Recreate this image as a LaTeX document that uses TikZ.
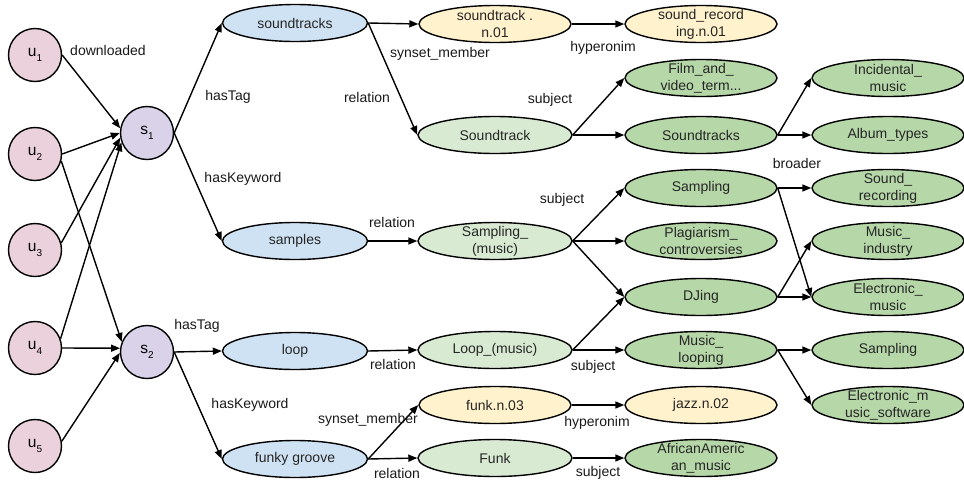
\documentclass[tikz,border=0pt]{standalone}
\usepackage{fontspec}
\setmainfont{Liberation Sans}
\usetikzlibrary{shapes.geometric,arrows.meta}
\definecolor{userpink}{HTML}{EAD1DC}
\definecolor{songlilac}{HTML}{D9D2E9}
\definecolor{tagblue}{HTML}{CFE2F3}
\definecolor{synyellow}{HTML}{FFF2CC}
\definecolor{reslight}{HTML}{D9EAD3}
\definecolor{catgreen}{HTML}{B6D7A8}
\newcommand{\idx}[2]{#1\raisebox{-0.55ex}{\fontsize{10}{10}\selectfont #2}}
\tikzset{
  user/.style={circle, draw, fill=userpink, minimum size=53pt, inner sep=0pt, font=\fontsize{15.5}{17}\selectfont},
  song/.style={user, fill=songlilac},
  concept/.style={ellipse, draw, minimum width=152pt, minimum height=37pt, inner xsep=0pt, inner ysep=-8pt, align=center, text=black!85},
  tag/.style={concept, fill=tagblue, minimum width=145pt},
  syn/.style={concept, fill=synyellow},
  res/.style={concept, fill=reslight, minimum width=154pt},
  cat/.style={concept, fill=catgreen},
  lbl/.style={inner sep=1pt, text=black!90}
}
\begin{document}
\begin{tikzpicture}[x=1pt, y=-1pt, >={Triangle[length=9pt,width=7pt]}, font=\fontsize{14}{17}\selectfont, line width=1.4pt]
\useasboundingbox (0,0) rectangle (964,480);
\foreach \n/\y in {1/55, 2/154, 3/250, 4/348, 5/446}
  \node[user] (u\n) at (35,\y) {\idx{u}{\n}};
\node[song] (s1) at (147,133) {\idx{s}{1}};
\node[song] (s2) at (147,352) {\idx{s}{2}};
\foreach \n/\x/\y/\s/\t in {st/295/23/tag/soundtracks, samples/295/241/tag/samples, loop/295/351/tag/loop, funky/295/459/tag/funky groove,
    stn/495/24/syn/{soundtrack .\\n.01}, std/495/135/res/Soundtrack, sampm/495/241/res/{Sampling\_\\(music)}, loopm/495/350/res/{Loop\_(music)},
    funkn/495/405/syn/funk.n.03, funk/495/458/res/Funk,
    srn/701/24/syn/{sound\_record\\ing.n.01}, film/701/78/cat/{Film\_and\_\\video\_term...}, stds/701/135/cat/Soundtracks,
    smpl/701/188/cat/Sampling, plag/701/241/cat/{Plagiarism\_\\controversies}, dj/701/297/cat/DJing,
    mloop/701/350/cat/{Music\_\\looping}, jazz/701/405/syn/jazz.n.02, afro/701/458/cat/{AfricanAmeric\\an\_music},
    incid/888/78/cat/{Incidental\_\\music}, album/888/135/cat/Album\_types, sndrec/888/188/cat/{Sound\_\\recording},
    musind/888/241/cat/{Music\_\\industry}, elec/888/297/cat/{Electronic\_\\music}, smpl2/888/350/cat/Sampling,
    elsoft/888/405/cat/{Electronic\_m\\usic\_software}}
  \node[\s] (\n) at (\x,\y) {\t};
\foreach \a/\b in {u1.east/s1.170, u2.east/s1.180, u2.-15/s2.158, u3.15/s1.190, u4.20/s1.200, u4.east/s2.172, u5.10/s2.182}
  \draw[->] (\a) -- (\b);
\foreach \a/\b in {s1/st, s1/samples, s2/loop, s2/funky, st/stn, st/std, stn/srn, std/film, std/stds, stds/incid, stds/album,
    samples/sampm, sampm/smpl, sampm/plag, sampm/dj, smpl/sndrec, smpl/elec, dj/musind, dj/elec,
    loop/loopm, loopm/dj, loopm/mloop, mloop/smpl2, mloop/elsoft, funky/funkn, funky/funk, funkn/jazz, funk/afro}
  \draw[->] (\a.east) -- (\b.west);
\foreach \x/\y/\t [count=\i] in {108/50/downloaded, 228/97/hasTag, 243/179/hasKeyword, 197/326/hasTag, 250/405/hasKeyword,
    440/54/synset\_member, 367/97/relation, 550/100/subject, 603/48/hyperonim, 392/222/relation, 562/200/subject,
    797/163/broader, 393/364/relation, 593/367/subject, 368/420/synset\_member, 597/423/hyperonim, 397/473/relation, 598/473/subject}
  \node[lbl] (lbl\i) at (\x,\y) {\t};
\end{tikzpicture}
\end{document}
